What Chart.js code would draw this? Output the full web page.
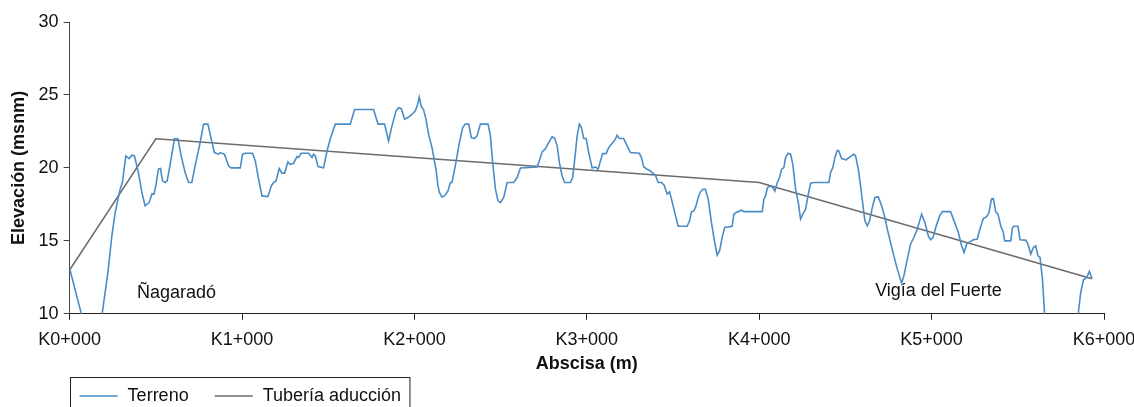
<!DOCTYPE html>
<html>
<head>
<meta charset="utf-8">
<script src="https://cdn.jsdelivr.net/npm/chart.js@4.4.1/dist/chart.umd.min.js"></script>
<style>
  html, body { margin: 0; padding: 0; background: #fff; overflow: hidden; }
  #wrap { width: 1134px; height: 407px; }
</style>
</head>
<body>
<div id="wrap"><canvas id="myChart"></canvas></div>
<script>
// distance along the line (m) and ground elevation (msnm)
const terrainDist = [
  0, 71, 142, 187, 222, 245, 264, 293, 306, 326,
  345, 361, 376, 399, 419, 438, 461, 477, 489, 500,
  515, 527, 539, 554, 566, 585, 608, 628, 647, 670,
  690, 709, 728, 757, 777, 802, 821, 840, 864, 873,
  898, 922, 937, 990, 1003, 1019, 1061, 1077, 1096, 1116,
  1150, 1170, 1183, 1197, 1216, 1232, 1247, 1266, 1280, 1299,
  1319, 1328, 1344, 1386, 1406, 1415, 1425, 1441, 1473, 1493,
  1512, 1541, 1628, 1653, 1744, 1763, 1789, 1827, 1850, 1870,
  1893, 1908, 1924, 1943, 1963, 1986, 2005, 2019, 2028, 2040,
  2053, 2067, 2082, 2102, 2125, 2137, 2145, 2160, 2175, 2195,
  2208, 2218, 2237, 2261, 2280, 2295, 2315, 2330, 2349, 2363,
  2383, 2427, 2441, 2454, 2470, 2485, 2499, 2518, 2538, 2576,
  2596, 2615, 2712, 2721, 2741, 2760, 2779, 2799, 2814, 2828,
  2841, 2857, 2872, 2905, 2918, 2930, 2944, 2957, 2969, 2982,
  2996, 3011, 3031, 3050, 3066, 3079, 3092, 3112, 3127, 3147,
  3166, 3176, 3189, 3214, 3234, 3253, 3305, 3317, 3330, 3350,
  3369, 3383, 3398, 3414, 3433, 3449, 3466, 3480, 3491, 3510,
  3530, 3582, 3596, 3607, 3621, 3634, 3646, 3659, 3673, 3688,
  3704, 3723, 3742, 3756, 3770, 3785, 3800, 3843, 3853, 3867,
  3897, 3911, 4018, 4027, 4037, 4048, 4066, 4079, 4091, 4105,
  4118, 4130, 4143, 4153, 4168, 4182, 4195, 4211, 4227, 4240,
  4253, 4269, 4285, 4298, 4317, 4404, 4414, 4427, 4439, 4453,
  4462, 4478, 4491, 4505, 4520, 4536, 4549, 4559, 4575, 4588,
  4601, 4613, 4627, 4640, 4656, 4671, 4691, 4710, 4729, 4743,
  4762, 4781, 4801, 4826, 4839, 4859, 4878, 4897, 4917, 4942,
  4961, 4981, 4994, 5008, 5027, 5047, 5062, 5110, 5130, 5155,
  5174, 5188, 5203, 5222, 5242, 5265, 5280, 5300, 5319, 5333,
  5347, 5358, 5372, 5385, 5401, 5416, 5424, 5459, 5469, 5478,
  5501, 5513, 5546, 5559, 5575, 5590, 5604, 5617, 5629, 5643,
  5656, 5673, 5830, 5849, 5865, 5881, 5900, 5915, 5931
];
const terrainElev = [
  13.1, 9.86, 6.5, 9.86, 12.83, 15.34, 16.94, 18.54, 19, 20.82,
  20.64, 20.87, 20.82, 19.68, 18.31, 17.4, 17.62, 18.2, 18.2, 18.77,
  19.91, 19.95, 19.11, 19, 19.11, 20.36, 22, 22, 20.82, 19.68,
  19, 19, 20.14, 21.73, 23, 23, 22, 21.05, 20.94, 21.05,
  20.94, 20.14, 20, 20, 20.94, 21, 21, 20.48, 19.23, 18.08,
  18.03, 18.77, 19, 19.11, 19.95, 19.64, 19.64, 20.41, 20.25, 20.32,
  20.77, 20.71, 21, 21, 20.71, 20.94, 20.82, 20.09, 20, 21.16,
  22, 23, 23, 24, 24, 24, 23, 23, 21.85, 22.88,
  23.9, 24.13, 24.06, 23.34, 23.45, 23.68, 23.9, 24.36, 24.86, 24.2,
  24, 23.34, 22.31, 21.39, 19.91, 18.77, 18.31, 18.01, 18.08, 18.42,
  19, 19, 20.14, 21.73, 22.76, 23, 23, 22.07, 22.01, 22.19,
  23, 23, 22.19, 20.36, 18.54, 17.74, 17.62, 17.97, 19, 19,
  19.34, 20, 20.07, 20.36, 21.1, 21.32, 21.73, 22.14, 22.01, 21.51,
  20.36, 19.45, 19, 19, 19.34, 20.6, 22.19, 23, 22.76, 22.01,
  22.01, 21.05, 20, 20.07, 19.91, 20.48, 20.98, 20.98, 21.39, 21.69,
  21.97, 22.24, 22.01, 22.01, 21.51, 21.05, 21, 20.71, 20.07, 19.91,
  19.79, 19.64, 19.5, 19, 19, 18.81, 18.2, 18.36, 17.86, 16.94,
  16, 16, 16.37, 16.99, 17.05, 17.4, 17.97, 18.36, 18.54, 18.54,
  17.86, 16.25, 14.88, 14.02, 14.31, 15.23, 15.91, 16, 16.83, 16.94,
  17.1, 17, 17, 17.86, 18.08, 18.65, 18.77, 18.65, 18.42, 19,
  19.34, 19.91, 20.02, 20.71, 21.01, 20.94, 20.25, 18.54, 17.62, 16.49,
  16.83, 17.17, 18.2, 18.95, 19, 19, 19.68, 20.02, 20.71, 21.21,
  21.16, 20.64, 20.6, 20.55, 20.71, 20.82, 20.94, 20.82, 19.91, 18.77,
  17.51, 16.37, 16.03, 16.37, 17.28, 17.97, 18.01, 17.4, 16.6, 15.8,
  14.88, 13.97, 13.06, 12.1, 12.6, 13.75, 14.77, 15.23, 15.8, 16.83,
  16.25, 15.34, 15.07, 15.23, 16.03, 16.71, 17, 17, 16.37, 15.57,
  14.66, 14.2, 14.77, 14.93, 15.07, 15.12, 15.8, 16.53, 16.66, 16.94,
  17.86, 17.9, 16.99, 16.83, 16.03, 15.57, 15, 15, 15.91, 16,
  16, 15.07, 15.05, 14.77, 14.09, 14.54, 14.66, 13.97, 13.86, 12.38,
  9.86, 5, 5, 9.86, 11.46, 12.33, 12.49, 12.9, 12.4
];

// pipe profile
const pipeDist = [0, 500, 4000, 5930];
const pipeElev = [13, 22, 19, 12.4];

const xTickLabels = ['K0+000', 'K1+000', 'K2+000', 'K3+000', 'K4+000', 'K5+000', 'K6+000'];
const seriesNames = ['Terreno', 'Tubería aducción'];

// place names written on the plot
const placeNames = ['Ñagaradó', 'Vigía del Fuerte'];
const placeDist = [620, 5040];
const placeElev = [11.45, 11.55];

const FONT = "'Liberation Sans', Arial, sans-serif";
const TERRAIN_COLOR = '#4a8cc6';
const PIPE_COLOR = '#6b6b6b';

Chart.defaults.font.family = FONT;
Chart.defaults.color = '#111';

const placeLabels = {
  id: 'placeLabels',
  afterDatasetsDraw(chart) {
    const {ctx, scales} = chart;
    ctx.save();
    ctx.font = `18px ${FONT}`;
    ctx.fillStyle = '#111';
    ctx.textAlign = 'center';
    ctx.textBaseline = 'middle';
    placeNames.forEach((name, i) => {
      ctx.fillText(name, scales.x.getPixelForValue(placeDist[i]), scales.y.getPixelForValue(placeElev[i]));
    });
    ctx.restore();
  }
};

// legend in a box under the axis, cut off by the bottom edge like the original
const boxLegend = {
  id: 'boxLegend',
  afterDraw(chart) {
    const {ctx, chartArea} = chart;
    const top = chart.height - 30;
    const midY = top + 19;
    let x = chartArea.left + 10;
    ctx.save();
    ctx.font = `18px ${FONT}`;
    ctx.textBaseline = 'middle';
    ctx.textAlign = 'left';
    chart.data.datasets.forEach((ds) => {
      ctx.strokeStyle = ds.borderColor;
      ctx.lineWidth = 1.5;
      ctx.beginPath();
      ctx.moveTo(x, midY);
      ctx.lineTo(x + 38, midY);
      ctx.stroke();
      x += 48;
      ctx.fillStyle = '#111';
      ctx.fillText(ds.label, x, midY);
      x += ctx.measureText(ds.label).width + 26;
    });
    const right = x - 26 + 8;
    ctx.strokeStyle = '#222';
    ctx.lineWidth = 1;
    ctx.strokeRect(Math.round(chartArea.left) + 0.5, top + 0.5, right - chartArea.left, 60);
    ctx.restore();
  }
};

function drawChart() {
  const ctx = document.getElementById('myChart');

  new Chart(ctx, {
    type: 'line',
    data: {
      datasets: [{
        label: seriesNames[0],
        data: terrainDist.map((d, i) => ({x: d, y: terrainElev[i]})),
        borderColor: TERRAIN_COLOR,
        borderWidth: 1.6,
        pointRadius: 0,
        tension: 0
      }, {
        label: seriesNames[1],
        data: pipeDist.map((d, i) => ({x: d, y: pipeElev[i]})),
        borderColor: PIPE_COLOR,
        borderWidth: 1.5,
        pointRadius: 0,
        tension: 0
      }]
    },
    options: {
      responsive: true,
      maintainAspectRatio: false,
      animation: false,
      layout: {
        padding: {top: 22, right: 30, bottom: 32, left: 8}
      },
      plugins: {
        legend: {display: false},
        tooltip: {enabled: false}
      },
      scales: {
        x: {
          type: 'linear',
          min: 0,
          max: 6000,
          afterFit(scale) {
            // let the last label run into the right margin
            scale.paddingRight = 0;
          },
          ticks: {
            stepSize: 1000,
            autoSkip: false,
            maxRotation: 0,
            padding: 9,
            font: {size: 18},
            callback: (v) => xTickLabels[v / 1000]
          },
          grid: {drawOnChartArea: false, tickLength: 6, color: '#222'},
          border: {color: '#222', width: 1},
          title: {
            display: true,
            text: 'Abscisa (m)',
            font: {size: 18, weight: 'bold'},
            padding: {top: -6, bottom: 0}
          }
        },
        y: {
          min: 10,
          max: 30,
          ticks: {
            stepSize: 5,
            padding: 5,
            font: {size: 18}
          },
          grid: {drawOnChartArea: false, tickLength: 6, color: '#444'},
          border: {color: '#444', width: 1},
          title: {
            display: true,
            text: 'Elevación (msnm)',
            font: {size: 18, weight: 'bold'},
            padding: {top: 0, bottom: 4}
          }
        }
      }
    },
    plugins: [placeLabels, boxLegend]
  });
}

drawChart();
</script>
</body>
</html>
